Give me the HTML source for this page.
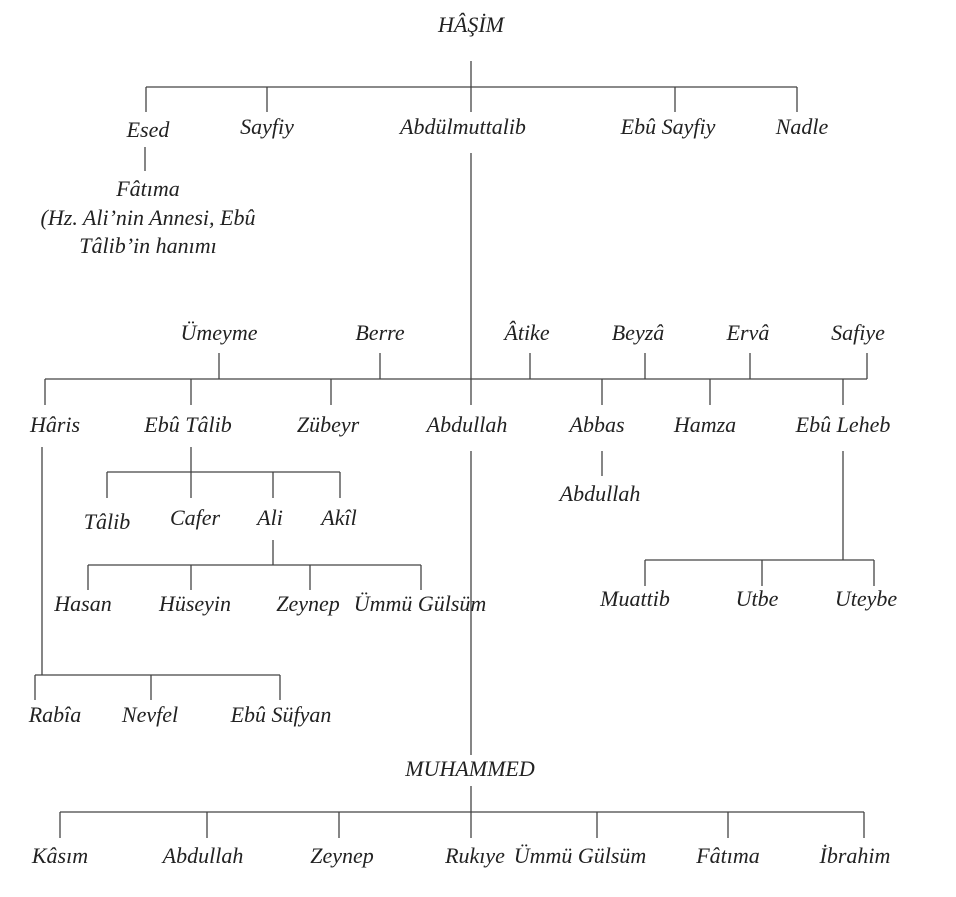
<!DOCTYPE html>
<html><head><meta charset="utf-8"><style>
html,body{margin:0;padding:0;background:#fff}
svg{display:block}
text{font-family:"Liberation Serif",serif;font-style:italic;font-size:22px;fill:#222;text-anchor:middle}
line{stroke:#444;stroke-width:1.3}
</style></head><body>
<svg width="956" height="897" viewBox="0 0 956 897" xmlns="http://www.w3.org/2000/svg">
<text x="471" y="32">HÂŞİM</text>
<line x1="471" y1="61" x2="471" y2="112"/>
<line x1="146" y1="87" x2="797" y2="87"/>
<line x1="146" y1="87" x2="146" y2="112"/>
<line x1="267" y1="87" x2="267" y2="112"/>
<line x1="675" y1="87" x2="675" y2="112"/>
<line x1="797" y1="87" x2="797" y2="112"/>
<text x="148" y="137">Esed</text>
<text x="267" y="134">Sayfiy</text>
<text x="463" y="134">Abdülmuttalib</text>
<text x="668" y="134">Ebû Sayfiy</text>
<text x="802" y="134">Nadle</text>
<line x1="145" y1="147" x2="145" y2="171"/>
<text x="148" y="196">Fâtıma</text>
<text x="148" y="225">(Hz. Ali’nin Annesi, Ebû</text>
<text x="148" y="253">Tâlib’in hanımı</text>
<line x1="471" y1="153" x2="471" y2="405"/>
<text x="219" y="340">Ümeyme</text>
<text x="380" y="340">Berre</text>
<text x="527" y="340">Âtike</text>
<text x="638" y="340">Beyzâ</text>
<text x="748" y="340">Ervâ</text>
<text x="858" y="340">Safiye</text>
<line x1="45" y1="379" x2="867" y2="379"/>
<line x1="219" y1="353" x2="219" y2="379"/>
<line x1="380" y1="353" x2="380" y2="379"/>
<line x1="530" y1="353" x2="530" y2="379"/>
<line x1="645" y1="353" x2="645" y2="379"/>
<line x1="750" y1="353" x2="750" y2="379"/>
<line x1="867" y1="353" x2="867" y2="379"/>
<line x1="45" y1="379" x2="45" y2="405"/>
<line x1="191" y1="379" x2="191" y2="405"/>
<line x1="331" y1="379" x2="331" y2="405"/>
<line x1="602" y1="379" x2="602" y2="405"/>
<line x1="710" y1="379" x2="710" y2="405"/>
<line x1="843" y1="379" x2="843" y2="405"/>
<text x="55" y="432">Hâris</text>
<text x="188" y="432">Ebû Tâlib</text>
<text x="328" y="432">Zübeyr</text>
<text x="467" y="432">Abdullah</text>
<text x="597" y="432">Abbas</text>
<text x="705" y="432">Hamza</text>
<text x="843" y="432">Ebû Leheb</text>
<line x1="602" y1="451" x2="602" y2="476"/>
<text x="600" y="501">Abdullah</text>
<line x1="191" y1="447" x2="191" y2="498"/>
<line x1="107" y1="472" x2="340" y2="472"/>
<line x1="107" y1="472" x2="107" y2="498"/>
<line x1="273" y1="472" x2="273" y2="498"/>
<line x1="340" y1="472" x2="340" y2="498"/>
<text x="107" y="529">Tâlib</text>
<text x="195" y="525">Cafer</text>
<text x="270" y="525">Ali</text>
<text x="339" y="525">Akîl</text>
<line x1="273" y1="540" x2="273" y2="565"/>
<line x1="88" y1="565" x2="421" y2="565"/>
<line x1="88" y1="565" x2="88" y2="590"/>
<line x1="191" y1="565" x2="191" y2="590"/>
<line x1="310" y1="565" x2="310" y2="590"/>
<line x1="421" y1="565" x2="421" y2="590"/>
<text x="83" y="611">Hasan</text>
<text x="195" y="611">Hüseyin</text>
<text x="308" y="611">Zeynep</text>
<text x="420" y="611">Ümmü Gülsüm</text>
<line x1="42" y1="447" x2="42" y2="675"/>
<line x1="35" y1="675" x2="280" y2="675"/>
<line x1="35" y1="675" x2="35" y2="700"/>
<line x1="151" y1="675" x2="151" y2="700"/>
<line x1="280" y1="675" x2="280" y2="700"/>
<text x="55" y="722">Rabîa</text>
<text x="150" y="722">Nevfel</text>
<text x="281" y="722">Ebû Süfyan</text>
<line x1="843" y1="451" x2="843" y2="560"/>
<line x1="645" y1="560" x2="874" y2="560"/>
<line x1="645" y1="560" x2="645" y2="586"/>
<line x1="762" y1="560" x2="762" y2="586"/>
<line x1="874" y1="560" x2="874" y2="586"/>
<text x="635" y="606">Muattib</text>
<text x="757" y="606">Utbe</text>
<text x="866" y="606">Uteybe</text>
<line x1="471" y1="451" x2="471" y2="755"/>
<text x="470" y="776">MUHAMMED</text>
<line x1="471" y1="786" x2="471" y2="838"/>
<line x1="60" y1="812" x2="864" y2="812"/>
<line x1="60" y1="812" x2="60" y2="838"/>
<line x1="207" y1="812" x2="207" y2="838"/>
<line x1="339" y1="812" x2="339" y2="838"/>
<line x1="597" y1="812" x2="597" y2="838"/>
<line x1="728" y1="812" x2="728" y2="838"/>
<line x1="864" y1="812" x2="864" y2="838"/>
<text x="60" y="863">Kâsım</text>
<text x="203" y="863">Abdullah</text>
<text x="342" y="863">Zeynep</text>
<text x="475" y="863">Rukıye</text>
<text x="580" y="863">Ümmü Gülsüm</text>
<text x="728" y="863">Fâtıma</text>
<text x="855" y="863">İbrahim</text>
</svg>
</body></html>
